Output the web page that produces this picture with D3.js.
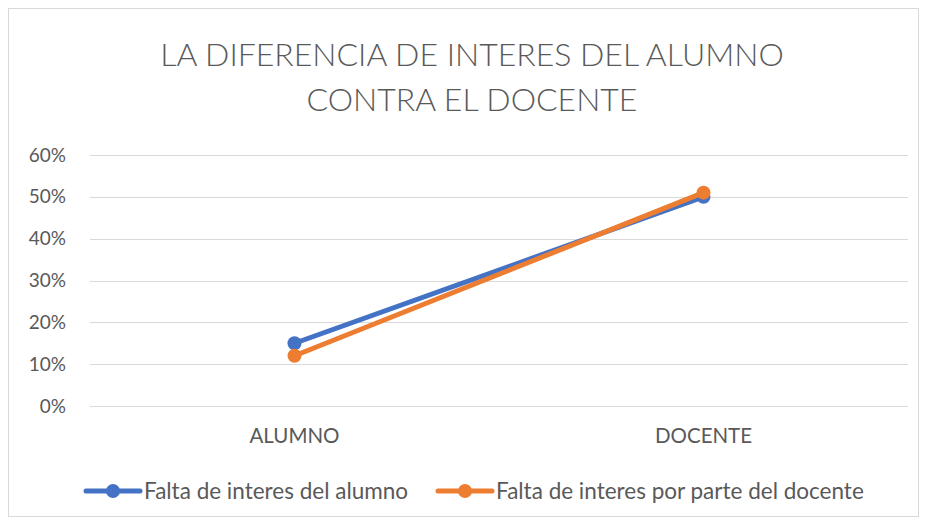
<!DOCTYPE html>
<html>
<head>
<meta charset="utf-8">
<script src="https://cdn.jsdelivr.net/npm/d3@7"></script>
<style>
  body { margin: 0; background: #fff; font-family: Lato, "Open Sans", sans-serif; }
  svg text { fill: #595959; }
</style>
</head>
<body>
<script>
const categories = ["ALUMNO", "DOCENTE"];
const seriesNames = ["Falta de interes del alumno", "Falta de interes por parte del docente"];
const alumnoSeries = [0.15, 0.50];
const docenteSeries = [0.12, 0.51];
const yTicks = [0, 0.1, 0.2, 0.3, 0.4, 0.5, 0.6];
const colors = ["#4472c4", "#ed7d31"];

const w = 925, h = 524;
const plotLeft = 90, plotRight = 908, plotTop = 155, plotBottom = 406;

const svg = d3.select("body").append("svg")
  .attr("width", w).attr("height", h);

svg.append("rect")
  .attr("x", 8.5).attr("y", 8.5)
  .attr("width", 910).attr("height", 508)
  .attr("fill", "#fff").attr("stroke", "#d9d9d9");

const title = svg.append("text")
  .attr("text-anchor", "middle")
  .style("font-size", "32px")
  .style("font-weight", 300);
title.append("tspan").attr("x", 472).attr("y", 66).text("LA DIFERENCIA DE INTERES DEL ALUMNO");
title.append("tspan").attr("x", 472).attr("y", 111).text("CONTRA EL DOCENTE");

const x = d3.scaleBand().domain(categories).range([plotLeft, plotRight]);
const y = d3.scaleLinear().domain([0, 0.6]).range([plotBottom, plotTop]);

// gridlines
svg.append("g").selectAll("line")
  .data(yTicks).enter().append("line")
  .attr("x1", plotLeft).attr("x2", plotRight)
  .attr("y1", d => Math.round(y(d)) + 0.5)
  .attr("y2", d => Math.round(y(d)) + 0.5)
  .attr("stroke", "#d9d9d9").attr("stroke-width", 1);

const yAxis = d3.axisLeft(y).tickValues(yTicks).tickFormat(d3.format(".0%")).tickSize(0).tickPadding(24);
svg.append("g").attr("transform", "translate(" + plotLeft + ",0)").call(yAxis)
  .call(g => g.select(".domain").remove())
  .selectAll("text").style("font-size", "19px").style("font-family", "Lato, sans-serif").attr("fill", "#595959");

const xAxis = d3.axisBottom(x).tickSize(0).tickPadding(22);
svg.append("g").attr("transform", "translate(0," + plotBottom + ")").call(xAxis)
  .call(g => g.select(".domain").remove())
  .selectAll("text").style("font-size", "20.5px").style("font-family", "Lato, sans-serif").attr("fill", "#595959");

const series = [alumnoSeries, docenteSeries];
const line = d3.line()
  .x((d, i) => x(categories[i]) + x.bandwidth() / 2)
  .y(d => y(d));

series.forEach((vals, s) => {
  svg.append("path")
    .datum(vals)
    .attr("d", line)
    .attr("fill", "none")
    .attr("stroke", colors[s])
    .attr("stroke-width", 5)
    .attr("stroke-linecap", "round");
  svg.append("g").selectAll("circle")
    .data(vals).enter().append("circle")
    .attr("cx", (d, i) => x(categories[i]) + x.bandwidth() / 2)
    .attr("cy", d => y(d))
    .attr("r", 7)
    .attr("fill", colors[s]);
});

// legend
const legendX = [86, 438];
const legend = svg.append("g");
seriesNames.forEach((name, s) => {
  const g = legend.append("g").attr("transform", "translate(" + legendX[s] + ",491)");
  g.append("line").attr("x1", 0).attr("x2", 54).attr("y1", 0).attr("y2", 0)
    .attr("stroke", colors[s]).attr("stroke-width", 5).attr("stroke-linecap", "round");
  g.append("circle").attr("cx", 27).attr("cy", 0).attr("r", 7).attr("fill", colors[s]);
  g.append("text").attr("x", 58).attr("y", 7.5)
    .style("font-size", "22.5px").text(name);
});
</script>
</body>
</html>
